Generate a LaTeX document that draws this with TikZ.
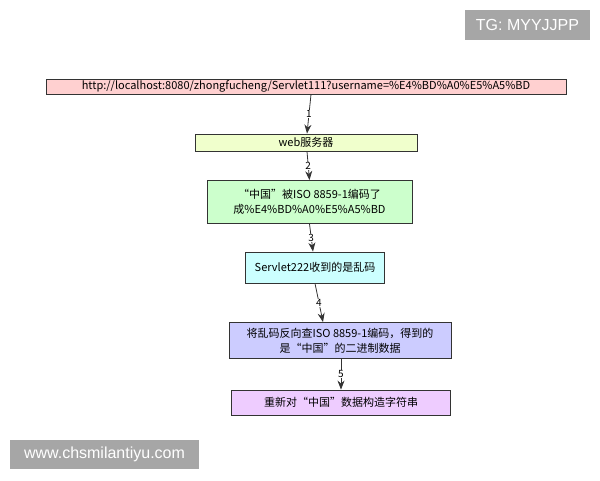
\documentclass[tikz,border=0pt]{standalone}
\usepackage{fontspec}
\setmainfont{Noto Sans CJK SC}
\newfontfamily\markfont{Liberation Sans}
\usetikzlibrary{arrows.meta}
\definecolor{linegray}{HTML}{333333}
\definecolor{markgray}{HTML}{A6A6A6}
\tikzset{
	box/.style={draw=linegray, line width=0.9pt, align=center, inner sep=1pt, font=\fontsize{11}{15}\selectfont},
	flow/.style={draw=linegray, line width=0.8pt, -{Stealth[length=9pt,width=7pt]}},
	num/.style={fill=white, inner sep=0.5pt, font=\fontsize{10}{11}\selectfont},
	stamp/.style={fill=markgray, text=white, inner sep=0pt, font=\markfont\fontsize{16}{18}\selectfont}
}
\begin{document}
\begin{tikzpicture}[x=1pt,y=-1pt]
	    \useasboundingbox (0,0) rectangle (600,480);
	    \node[stamp, minimum width=125pt, minimum height=30pt] (tg) at (527.5,25) {TG: MYYJJPP};
	    \node[stamp, minimum width=189pt, minimum height=29pt] (www) at (104.5,454.5) {www.chsmilantiyu.com};
	    
	    \node[box, fill={rgb,255:red,255;green,208;blue,208}, minimum width=520pt, minimum height=15pt] (url) at (306,86.5) {http://localhost:8080/zhongfucheng/Servlet111?username=\%E4\%BD\%A0\%E5\%A5\%BD};
	    \node[box, fill={rgb,255:red,240;green,255;blue,204}, minimum width=222pt, minimum height=17pt] (web) at (306,142.5) {web服务器};
	    \node[box, fill={rgb,255:red,204;green,255;blue,204}, minimum width=205pt, minimum height=43pt] (enc) at (309.5,202) {“中国”被ISO 8859-1编码了\\成\%E4\%BD\%A0\%E5\%A5\%BD};
	    \node[box, fill={rgb,255:red,204;green,255;blue,255}, minimum width=139pt, minimum height=31pt] (recv) at (315,267.5) {Servlet222收到的是乱码};
	    \node[box, fill={rgb,255:red,204;green,204;blue,255}, minimum width=222pt, minimum height=36pt] (back) at (340,340.5) {将乱码反向查ISO 8859-1编码，得到的\\是“中国”的二进制数据};
	    \node[box, fill={rgb,255:red,238;green,204;blue,255}, minimum width=219pt, minimum height=25pt] (rebuild) at (341,402.5) {重新对“中国”数据构造字符串};
	    
	    \draw[flow] ([xshift=5pt]url.south) -- node[num] {1} ([xshift=1pt]web.north);
	    \draw[flow] ([xshift=1pt]web.south) -- node[num] {2} (enc.north);
	    \draw[flow] (enc.south) -- node[num] {3} ([xshift=-2pt]recv.north);
	    \draw[flow] (recv.south) -- node[num] {4} ([xshift=-17pt]back.north);
	    \draw[flow] ([xshift=1pt]back.south) -- node[num] {5} (rebuild.north);
\end{tikzpicture}
\end{document}
